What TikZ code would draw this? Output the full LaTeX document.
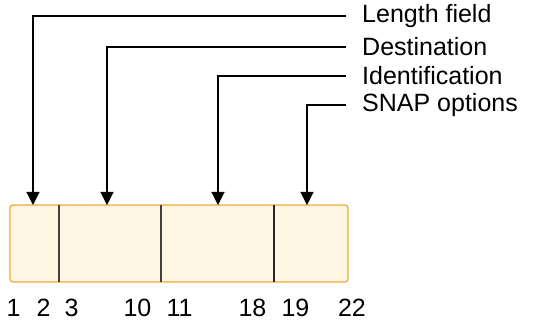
\documentclass[tikz,border=0pt]{standalone}
\usepackage{fontspec}
\setmainfont{Liberation Sans}
\usetikzlibrary{arrows.meta}
\definecolor{boxfill}{HTML}{FEF6E2}
\definecolor{boxline}{HTML}{F0AA3C}
\begin{document}
\begin{tikzpicture}[x=1pt,y=-1pt,
  conn/.style={line width=1.1pt,-{Triangle[length=13pt,width=13pt]}},
  lbl/.style={anchor=west,inner sep=0pt,font=\fontsize{25}{29}\selectfont},
  num/.style={anchor=center,inner sep=0pt,font=\fontsize{25}{29}\selectfont}]
\useasboundingbox (0,0) rectangle (544,323);
% box
\draw[boxline,fill=boxfill,line width=1.3pt,rounded corners=3pt] (10,205) rectangle (348,282);
\coordinate (f1) at (33,205);
\coordinate (f2) at (107,205);
\coordinate (f3) at (218,205);
\coordinate (f4) at (307,205);
\draw[line width=1.1pt,black!75] (59,205) -- (59,282);
\draw[line width=1.1pt,black!75] (161,205) -- (161,282);
\draw[line width=1.1pt,black!85] (274,205) -- (274,282);
% labels
\node[lbl] (l1) at (362,16) {Length field};
\node[lbl] (l2) at (362,47) {Destination};
\node[lbl] (l3) at (362,76) {Identification};
\node[lbl] (l4) at (362,105) {SNAP options};
\draw[conn] (l1.west) ++(-16,0) -| (f1);
\draw[conn] (l2.west) ++(-16,0) -| (f2);
\draw[conn] (l3.west) ++(-16,0) -| (f3);
\draw[conn] (l4.west) ++(-16,0) -| (f4);
% numbers
\node[num] (n1) at (13.5,308) {1};
\node[num] (n2) at (43.5,308) {2};
\node[num] (n3) at (71.5,308) {3};
\node[num] (n10) at (137.5,308) {10};
\node[num] (n11) at (179.5,308) {11};
\node[num] (n18) at (252.5,308) {18};
\node[num] (n19) at (295.5,308) {19};
\node[num] (n22) at (352,308) {22};
\end{tikzpicture}
\end{document}
